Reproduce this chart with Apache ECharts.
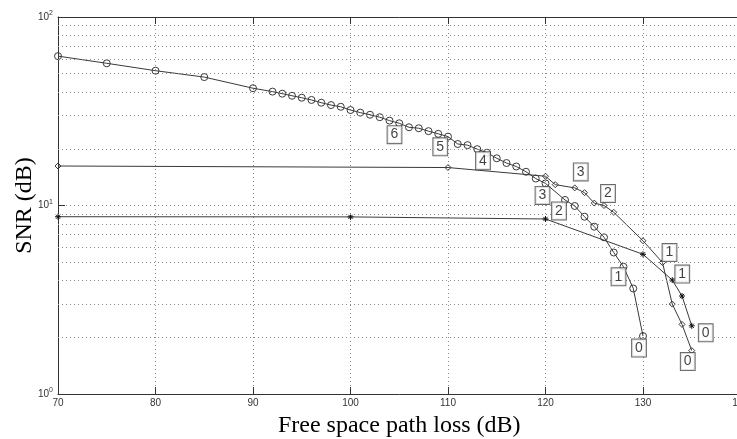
<!DOCTYPE html>
<html><head><meta charset="utf-8">
<script src="https://cdn.jsdelivr.net/npm/echarts@6/dist/echarts.min.js"></script>
<style>html,body{margin:0;padding:0;overflow:hidden;background:#fff}#c{width:745px;height:439px}</style>
</head><body><div id="c"></div>
<script>
// ---- data ----
const xTicks = [70, 80, 90, 100, 110, 120, 130, 140];
const yTicks = [1, 10, 100];
const minorGrid = [2, 3, 4, 5, 6, 7, 8, 9, 20, 30, 40, 50, 60, 70, 80, 90];

const lossA = [70, 75, 80, 85, 90, 92, 93, 94, 95, 96, 97, 98, 99, 100, 101, 102, 103, 104, 105, 106, 107, 108, 109, 110,
  111, 112, 113, 114, 115, 116, 117, 118, 119, 120, 122, 123, 124, 125, 126, 127, 128, 129, 130];
const snrA = [62, 56.8, 51.9, 48.0, 41.9, 40.2, 39.2, 38.2, 37.3, 36.3, 35.1, 34.1, 33.4, 32.1, 31.1, 30.3, 29.4, 28.2, 27.3, 26.0, 25.7, 24.8, 24.0, 23.2,
  21.2, 20.9, 19.9, 19.05, 17.8, 16.8, 16.1, 15.1, 13.9, 13.1, 10.7, 9.94, 8.72, 7.72, 6.78, 5.63, 4.73, 3.63, 2.03];

const lossB = [70, 110, 120, 121, 123, 124, 125, 126, 127, 130, 132, 133, 134, 135];
const snrB = [16.2, 15.9, 14.3, 12.9, 12.4, 11.7, 10.3, 10.0, 9.2, 6.5, 4.98, 3.0, 2.34, 1.70];

const lossC = [70, 100, 120, 130, 133, 134, 135];
const snrC = [8.72, 8.7, 8.48, 5.51, 4.02, 3.31, 2.30];

// rate labels: [loss, text]
const labelsA = [[104, '6'], [109, '5'], [114, '4'], [120, '3'], [122, '2'], [128, '1'], [130, '0']];
const labelsB = [[123, '3'], [126, '2'], [132, '1'], [135, '0']];
const labelsC = [[133, '1'], [135, '0']];

// ---- styling / layout ----
const offA = [[5, 14], [2, 13], [-4, 8], [-3, 12], [-6, 11], [-5, 10], [-4, 12]];
const offB = [[6, -16], [4, -12], [7, -10], [-4, 11]];
const offC = [[10, -6], [14, 7]];

const LINE = '#3a3a3a';
const GRID = '#8a8a8a';
const asterisk = 'path://M0,-10L0,10M-10,0L10,0M-7,-7L7,7M-7,7L7,-7';

function pairs(xs, ys) { return xs.map((x, i) => [x, ys[i]]); }
function labelData(lbls, xs, ys, offs) {
  return lbls.map((l, i) => {
    const y = ys[xs.indexOf(l[0])];
    return { value: [l[0], y], name: l[1], label: { offset: offs[i] } };
  });
}

const boxLabel = {
  show: true, position: 'inside', formatter: p => p.name,
  fontFamily: 'Liberation Sans, Arial', fontSize: 14, color: '#111',
  backgroundColor: '#fff', borderColor: '#444', borderWidth: 1,
  padding: [2, 3, 1, 3]
};

function lineSeries(data, symbol, size) {
  return {
    type: 'line', data: data, symbol: symbol, symbolSize: size, showSymbol: true,
    lineStyle: { color: LINE, width: 1 },
    itemStyle: { color: 'rgba(255,255,255,0)', borderColor: LINE, borderWidth: 1 },
    animation: false, z: 3
  };
}

function labelSeries(data) {
  return {
    type: 'scatter', data: data, symbolSize: 1, itemStyle: { color: 'rgba(0,0,0,0)' },
    label: boxLabel, z: 10, animation: false, silent: true
  };
}

const chart = echarts.init(document.getElementById('c'), null, { renderer: 'canvas' });
chart.setOption({
  backgroundColor: '#fff',
  animation: false,
  grid: { left: 58, right: 4.5, top: 17, bottom: 45, containLabel: false, outerBoundsMode: 'none' },
  xAxis: [{
    type: 'value', min: xTicks[0], max: xTicks[xTicks.length - 1], interval: 10,
    name: 'Free space path loss (dB)', nameLocation: 'middle', nameGap: 20,
    nameTextStyle: { fontFamily: 'Liberation Serif, Times New Roman', fontSize: 24, color: '#000' },
    axisLine: { lineStyle: { color: '#333', width: 1 } },
    axisTick: { inside: true, length: 7, lineStyle: { color: '#333' } },
    axisLabel: { fontFamily: 'Liberation Sans, Arial', fontSize: 10, color: '#333', margin: 4 },
    splitLine: { show: true, lineStyle: { color: GRID, type: [1, 3], width: 1 } }
  }, {
    type: 'value', position: 'top', min: xTicks[0], max: xTicks[xTicks.length - 1], interval: 10,
    axisLine: { show: true, lineStyle: { color: '#333', width: 1 } },
    axisTick: { inside: true, length: 7, lineStyle: { color: '#333' } },
    axisLabel: { show: false }, splitLine: { show: false }
  }],
  yAxis: {
    type: 'log', logBase: 10, min: yTicks[0], max: yTicks[yTicks.length - 1],
    name: 'SNR (dB)', nameLocation: 'middle', nameGap: 21, nameRotate: 90, nameMoveOverlap: false,
    nameTextStyle: { fontFamily: 'Liberation Serif, Times New Roman', fontSize: 24, color: '#000' },
    axisLine: { show: true, lineStyle: { color: '#333', width: 1 } },
    axisTick: { show: true, inside: true, length: 7, lineStyle: { color: '#333' } },
    axisLabel: {
      fontFamily: 'Liberation Sans, Arial', fontSize: 10, color: '#333', margin: 5,
      formatter: v => '10{s|' + Math.round(Math.log10(v)) + '}',
      rich: { s: { fontSize: 7, padding: [0, 0, 7, 0], fontFamily: 'Liberation Sans, Arial', color: '#333' } }
    },
    splitLine: { show: true, lineStyle: { color: GRID, type: [1, 3], width: 1 } }
  },
  series: [
    {
      type: 'line', data: [], silent: true,
      markLine: {
        silent: true, symbol: 'none', label: { show: false }, animation: false,
        lineStyle: { color: GRID, type: [1, 3], width: 1 },
        data: minorGrid.map(v => ({ yAxis: v }))
      }
    },
    lineSeries(pairs(lossA, snrA), 'circle', 7),
    lineSeries(pairs(lossB, snrB), 'diamond', 6),
    Object.assign(lineSeries(pairs(lossC, snrC), asterisk, 6), { itemStyle: { color: 'none', borderColor: '#111', borderWidth: 1 } }),
    labelSeries(labelData(labelsA, lossA, snrA, offA)),
    labelSeries(labelData(labelsB, lossB, snrB, offB)),
    labelSeries(labelData(labelsC, lossC, snrC, offC))
  ]
});
</script>
</body></html>
